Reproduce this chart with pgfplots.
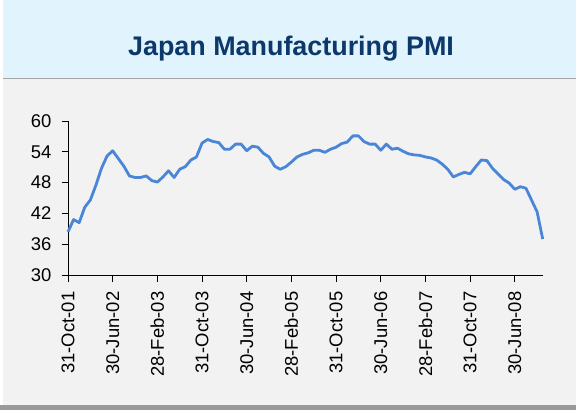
\documentclass[border=0pt]{standalone}
\usepackage{pgfplots}
\pgfplotsset{compat=1.18}
\usepackage{fontspec}
\setmainfont{Liberation Sans}
\definecolor{titleband}{RGB}{225,244,254}
\definecolor{panel}{RGB}{242,242,242}
\definecolor{titlecol}{RGB}{12,56,106}
\definecolor{linecol}{RGB}{74,134,216}
\definecolor{shadow}{RGB}{153,153,153}
\pgfplotstableread{
i v
0 38.4
1 40.8
2 40.2
3 43.2
4 44.6
5 47.5
6 50.8
7 53.2
8 54.2
9 52.7
10 51.2
11 49.3
12 49.0
13 49.0
14 49.3
15 48.4
16 48.1
17 49.1
18 50.3
19 49.0
20 50.6
21 51.1
22 52.4
23 53.0
24 55.7
25 56.4
26 56.0
27 55.8
28 54.5
29 54.5
30 55.5
31 55.5
32 54.2
33 55.1
34 54.9
35 53.7
36 53.0
37 51.2
38 50.6
39 51.1
40 52.0
41 53.0
42 53.5
43 53.8
44 54.3
45 54.3
46 53.9
47 54.5
48 54.9
49 55.6
50 55.9
51 57.1
52 57.1
53 56.0
54 55.5
55 55.5
56 54.3
57 55.5
58 54.5
59 54.7
60 54.1
61 53.6
62 53.4
63 53.3
64 53.0
65 52.8
66 52.4
67 51.6
68 50.6
69 49.1
70 49.6
71 50.0
72 49.7
73 51.1
74 52.4
75 52.3
76 50.8
77 49.7
78 48.6
79 47.9
80 46.7
81 47.2
82 46.9
83 44.6
84 42.3
85 37.0
}\pmidata
\begin{document}
\begin{tikzpicture}[x=1bp,y=1bp]
\useasboundingbox (0,0) rectangle (576,410);
\fill[white] (0,0) rectangle (576,410);
\fill[shadow] (0,0) rectangle (576,5);
\fill[panel] (3,5) rectangle (576,332);
\fill[titleband] (3,332) rectangle (576,410);
\draw[black!35, line width=1bp] (3,332) -- (576,332);
\node[font=\fontsize{27}{30}\selectfont\bfseries, text=titlecol, anchor=base, inner sep=0pt] at (291,355) {Japan Manufacturing PMI};
\begin{axis}[
  at={(68bp,135bp)}, anchor=south west,
  scale only axis, width=474.7bp, height=154bp,
  xmin=0, xmax=85, ymin=30, ymax=60,
  axis x line*=bottom, axis y line*=left,
  axis line style={black, line width=0.8bp},
  tick style={black, line width=0.8bp},
  tick align=outside, major tick length=6.5bp,
  xtick={0,8,...,80},
  xticklabels={31-Oct-01,30-Jun-02,28-Feb-03,31-Oct-03,30-Jun-04,28-Feb-05,31-Oct-05,30-Jun-06,28-Feb-07,31-Oct-07,30-Jun-08},
  ytick={30,36,...,60},
  x tick label style={rotate=90, anchor=east, font=\fontsize{18.5}{21}\selectfont, inner xsep=10bp, inner ysep=0bp},
  y tick label style={font=\fontsize{18.5}{21}\selectfont, inner xsep=10bp, inner ysep=0bp},
  /pgf/number format/assume math mode=true,
  clip=false,
]
\addplot[linecol, line width=2.8bp, line join=round] table[x=i, y=v] {\pmidata};
\end{axis}
\end{tikzpicture}
\end{document}
